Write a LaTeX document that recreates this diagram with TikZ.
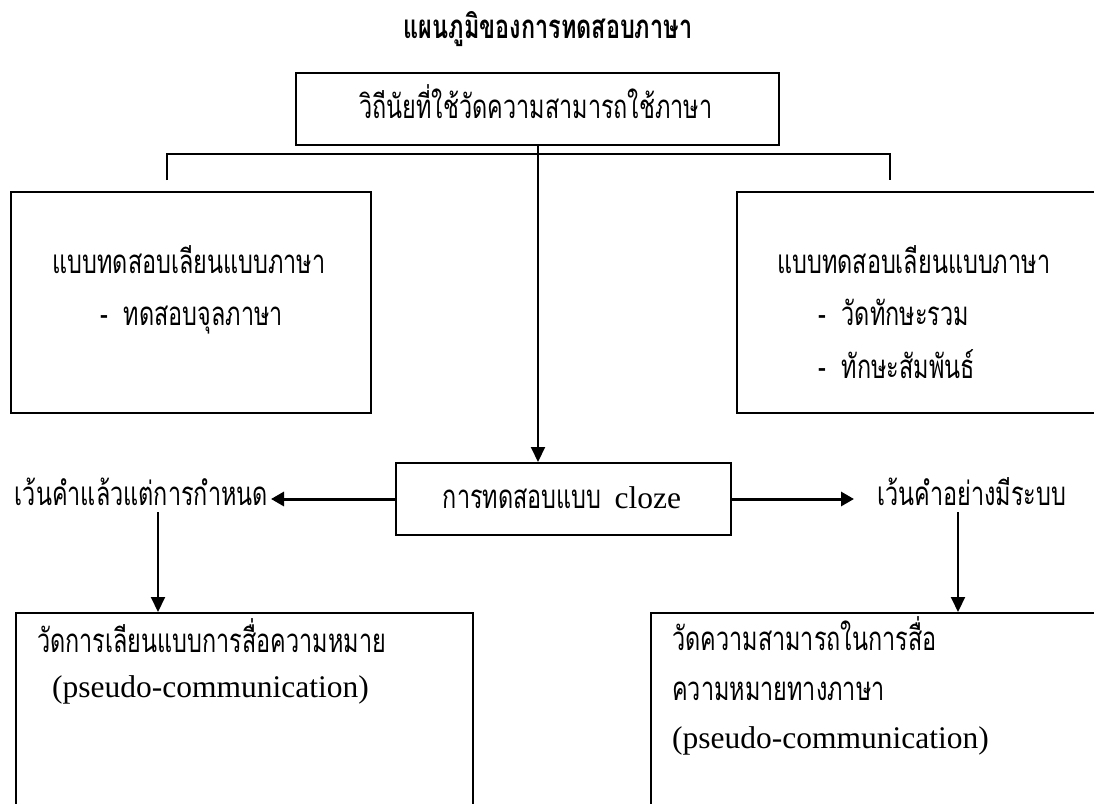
\documentclass[tikz,border=0pt]{standalone}
\usepackage{fontspec}
\setmainfont{Liberation Serif}
\newfontfamily\thai[Script=Thai,FakeStretch=0.71]{Loma}
\usetikzlibrary{arrows.meta}
\begin{document}
\begin{tikzpicture}[x=1pt,y=-1pt,
  box/.style={draw, line width=2pt, inner sep=0pt, anchor=north west},
  ln/.style={line width=2pt},
  arr/.style={line width=2pt, -{Triangle[length=15pt,width=14pt]}},
  harr/.style={line width=3pt, -{Triangle[length=13pt,width=14pt]}},
  thtxt/.style={inner sep=0pt, font=\thai\fontsize{33}{36}\selectfont},
  latxt/.style={inner sep=0pt, font=\fontsize{31.5}{34}\selectfont}]
\useasboundingbox (0,0) rectangle (1094,803);
\clip (0,0) rectangle (1094,803);
% title
\node[inner sep=0pt, anchor=base, font=\thai\bfseries\fontsize{33}{36}\selectfont] (title) at (548,38) {แผนภูมิของการทดสอบภาษา};
% top box
\node[box, minimum width=483pt, minimum height=72pt] (topbox) at (295,72) {};
\node[thtxt, anchor=base] (toptxt) at (536,118) {วิถีนัยที่ใช้วัดความสามารถใช้ภาษา};
% bar
\coordinate (barL) at (167,154);
\coordinate (barR) at (890,154);
\coordinate (tickL) at (167,180);
\coordinate (tickR) at (890,180);
\draw[ln] (tickL) -- (barL) -- (barR) -- (tickR);
% left box
\node[box, minimum width=360pt, minimum height=221pt] (lbox) at (10,191) {};
\node[thtxt, anchor=base] (l1) at (189,273) {แบบทดสอบเลียนแบบภาษา};
\node[thtxt, anchor=base west] (l2) at (100,325) {-\ \ ทดสอบจุลภาษา};
% right box
\node[box, minimum width=400pt, minimum height=221pt] (rbox) at (736,191) {};
\node[thtxt, anchor=base west] (r1) at (777,273) {แบบทดสอบเลียนแบบภาษา};
\node[thtxt, anchor=base west] (r2) at (818,325) {-\ \ วัดทักษะรวม};
\node[thtxt, anchor=base west] (r3) at (818,378) {-\ \ ทักษะสัมพันธ์};
% cloze box
\node[box, minimum width=335pt, minimum height=72pt] (clozebox) at (395,462) {};
\node[inner sep=0pt, anchor=base] (clozetxt) at (562,508) {{\thai\fontsize{33}{36}\selectfont การทดสอบแบบ}\hspace{13pt}{\fontsize{31.5}{34}\selectfont cloze}};
% vertical arrow
\coordinate (vtop) at (538,144);
\draw[arr] (vtop) -- (vtop |- clozebox.north);
% side labels
\node[thtxt, anchor=base east] (lblL) at (268,505) {เว้นคำแล้วแต่การกำหนด};
\node[thtxt, anchor=base west] (lblR) at (877,505) {เว้นคำอย่างมีระบบ};
\coordinate (aL) at (271,498);
\coordinate (aR) at (854,498);
\draw[harr] (clozebox.west) -- (aL |- clozebox.west);
\draw[harr] (clozebox.east) -- (aR |- clozebox.east);
% bottom boxes
\node[box, minimum width=457pt, minimum height=250pt] (botL) at (15,612) {};
\node[box, minimum width=500pt, minimum height=250pt] (botR) at (650,612) {};
\coordinate (dL) at (158,512);
\coordinate (dR) at (958,512);
\draw[arr] (dL) -- (dL |- botL.north);
\draw[arr] (dR) -- (dR |- botR.north);
\node[thtxt, anchor=base west] (b1) at (37,652) {วัดการเลียนแบบการสื่อความหมาย};
\node[latxt, anchor=base west] (b2) at (52,697) {(pseudo-communication)};
\node[thtxt, anchor=base west] (c1) at (672,650) {วัดความสามารถในการสื่อ};
\node[thtxt, anchor=base west] (c2) at (672,700) {ความหมายทางภาษา};
\node[latxt, anchor=base west] (c3) at (672,748) {(pseudo-communication)};
\end{tikzpicture}
\end{document}
